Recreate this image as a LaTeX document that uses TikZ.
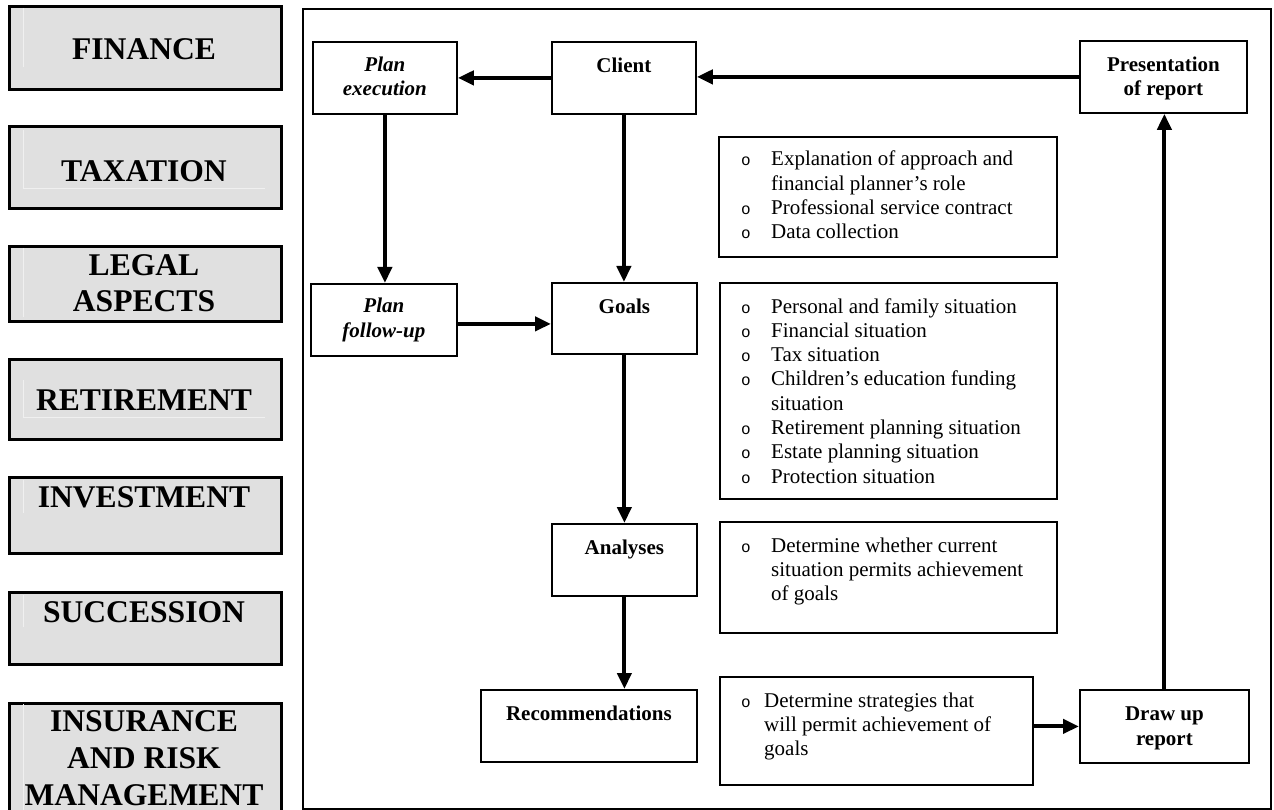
\documentclass[tikz,border=0pt]{standalone}
\usepackage{fontspec}
\setmainfont{Liberation Serif}
\newfontfamily\bulletfont{Liberation Mono}
\usetikzlibrary{arrows.meta}
\definecolor{sidegray}{RGB}{224,224,224}
\definecolor{faint}{RGB}{240,240,240}
\newcommand{\bul}{{\bulletfont\fontsize{16}{16}\selectfont o}}
\begin{document}
\begin{tikzpicture}[x=1pt,y=-1pt,
 side/.style={draw, line width=3pt, fill=sidegray, anchor=north west, inner sep=0pt},
 sidetext/.style={font=\fontsize{31.6}{36.8}\selectfont\bfseries, align=center, anchor=base, inner sep=0pt},
 pbox/.style={draw, line width=1.8pt, anchor=north west, inner sep=0pt},
 plabel/.style={font=\fontsize{21}{24.3}\selectfont\bfseries, align=center, anchor=base, inner sep=0pt},
 ilabel/.style={plabel, font=\fontsize{21}{24.3}\selectfont\bfseries\itshape},
 tbox/.style={draw, line width=1.8pt, anchor=north west, inner sep=0pt},
 ttext/.style={font=\fontsize{21}{24.3}\selectfont, anchor=base west, inner sep=0pt},
 faintline/.style={draw=faint, line width=0.8pt},
 conn/.style={line width=4pt, -{Triangle[length=16pt,width=14pt]}},
]
\useasboundingbox[fill=white] (0,0) rectangle (1274,810);
\clip (0,0) rectangle (1274,810);

% left column
\node[side, minimum width=272pt, minimum height=83pt] (finance) at (8,5) {};
\node[side, minimum width=272pt, minimum height=82pt] (taxation) at (8,125) {};
\node[side, minimum width=272pt, minimum height=75pt] (legal) at (8,245) {};
\node[side, minimum width=272pt, minimum height=80pt] (retire) at (8,358) {};
\node[side, minimum width=272pt, minimum height=76pt] (invest) at (8,476) {};
\node[side, minimum width=272pt, minimum height=72pt] (success) at (8,591) {};
\node[side, minimum width=272pt, minimum height=118pt] (insur) at (8,702) {};

\draw[faintline] (23,8) -- (23,67);
\draw[faintline] (23,130) -- (23,188) -- (265,188);
\draw[faintline] (23,248) -- (23,317);
\draw[faintline] (23,380) -- (23,417) -- (265,417);
\draw[faintline] (23,480) -- (23,513);
\draw[faintline] (23,595) -- (23,627);
\draw[faintline] (23,704) -- (23,812);

% (multi-line nodes are anchored at the baseline of their last line)
\node[sidetext] (financeT) at (144,60) {FINANCE};
\node[sidetext] (taxationT) at (144,182) {TAXATION};
\node[sidetext] (legalT) at (144,312) {LEGAL\\ASPECTS};
\node[sidetext] (retireT) at (144,410) {RETIREMENT};
\node[sidetext] (investT) at (144,507) {INVESTMENT};
\node[sidetext] (successT) at (144,622) {SUCCESSION};
\node[sidetext] (insurT) at (144,805) {INSURANCE\\AND RISK\\MANAGEMENT};

% main frame
\node[draw, line width=2pt, anchor=north west, inner sep=0pt, minimum width=968pt, minimum height=800pt] (frame) at (302,8) {};

% process boxes
\node[pbox, minimum width=144pt, minimum height=72pt] (planex) at (312,41) {};
\node[pbox, minimum width=144pt, minimum height=72pt] (client) at (551,41) {};
\node[pbox, minimum width=167pt, minimum height=72pt] (present) at (1079,40) {};
\node[pbox, minimum width=146pt, minimum height=72pt] (planfu) at (310,283) {};
\node[pbox, minimum width=145pt, minimum height=71pt] (goals) at (551,282) {};
\node[pbox, minimum width=145pt, minimum height=72pt] (analyses) at (551,523) {};
\node[pbox, minimum width=216pt, minimum height=72pt] (recom) at (480,689) {};
\node[pbox, minimum width=169pt, minimum height=73pt] (drawup) at (1079,689) {};

\node[ilabel] (planexT) at ([yshift=-55pt]planex.north) {Plan\\execution};
\node[plabel] (clientT) at ([yshift=-32pt]client.north) {Client};
\node[plabel] (presentT) at ([yshift=-56pt]present.north) {Presentation\\of report};
\node[ilabel] (planfuT) at ([yshift=-54pt]planfu.north) {Plan\\follow-up};
\node[plabel] (goalsT) at ([yshift=-31pt]goals.north) {Goals};
\node[plabel] (analysesT) at ([yshift=-31pt]analyses.north) {Analyses};
\node[plabel] (recomT) at ([yshift=-31pt]recom.north) {Recommendations};
\node[plabel] (drawupT) at ([yshift=-56pt]drawup.north) {Draw up\\report};

% text boxes
\node[tbox, minimum width=338pt, minimum height=120pt] (t1) at (718,136) {};
\node[tbox, minimum width=337pt, minimum height=216pt] (t2) at (719,282) {};
\node[tbox, minimum width=337pt, minimum height=111pt] (t3) at (719,521) {};
\node[tbox, minimum width=313pt, minimum height=108pt] (t4) at (719,676) {};

\node[ttext] (t1T) at (741,166) {\begin{tabular}[t]{@{}p{30pt}@{}l@{}}
\bul & Explanation of approach and\\
 & financial planner’s role\\
\bul & Professional service contract\\
\bul & Data collection
\end{tabular}};
\node[ttext] (t2T) at (741,313) {\begin{tabular}[t]{@{}p{30pt}@{}l@{}}
\bul & Personal and family situation\\
\bul & Financial situation\\
\bul & Tax situation\\
\bul & Children’s education funding\\
 & situation\\
\bul & Retirement planning situation\\
\bul & Estate planning situation\\
\bul & Protection situation
\end{tabular}};
\node[ttext] (t3T) at (741,552) {\begin{tabular}[t]{@{}p{30pt}@{}l@{}}
\bul & Determine whether current\\
 & situation permits achievement\\
 & of goals
\end{tabular}};
\node[ttext] (t4T) at (741,707) {\begin{tabular}[t]{@{}p{23pt}@{}l@{}}
\bul & Determine strategies that\\
 & will permit achievement of\\
 & goals
\end{tabular}};

% connectors
\draw[conn] (client.west) -- (planex.east);
\draw[conn] (present.west) -- (present.west -| client.east);
\draw[conn] (planex.south) -- (planex.south |- planfu.north);
\draw[conn] (client.south) -- (client.south |- goals.north);
\draw[conn] ([yshift=-4pt]planfu.east) -- ([yshift=-4pt]planfu.east -| goals.west);
\draw[conn] (goals.south) -- (goals.south |- analyses.north);
\draw[conn] (analyses.south) -- (analyses.south |- recom.north);
\draw[conn] (drawup.west -| t4.east) -- (drawup.west);
\draw[conn] (drawup.north) -- (drawup.north |- present.south);
\end{tikzpicture}
\end{document}
